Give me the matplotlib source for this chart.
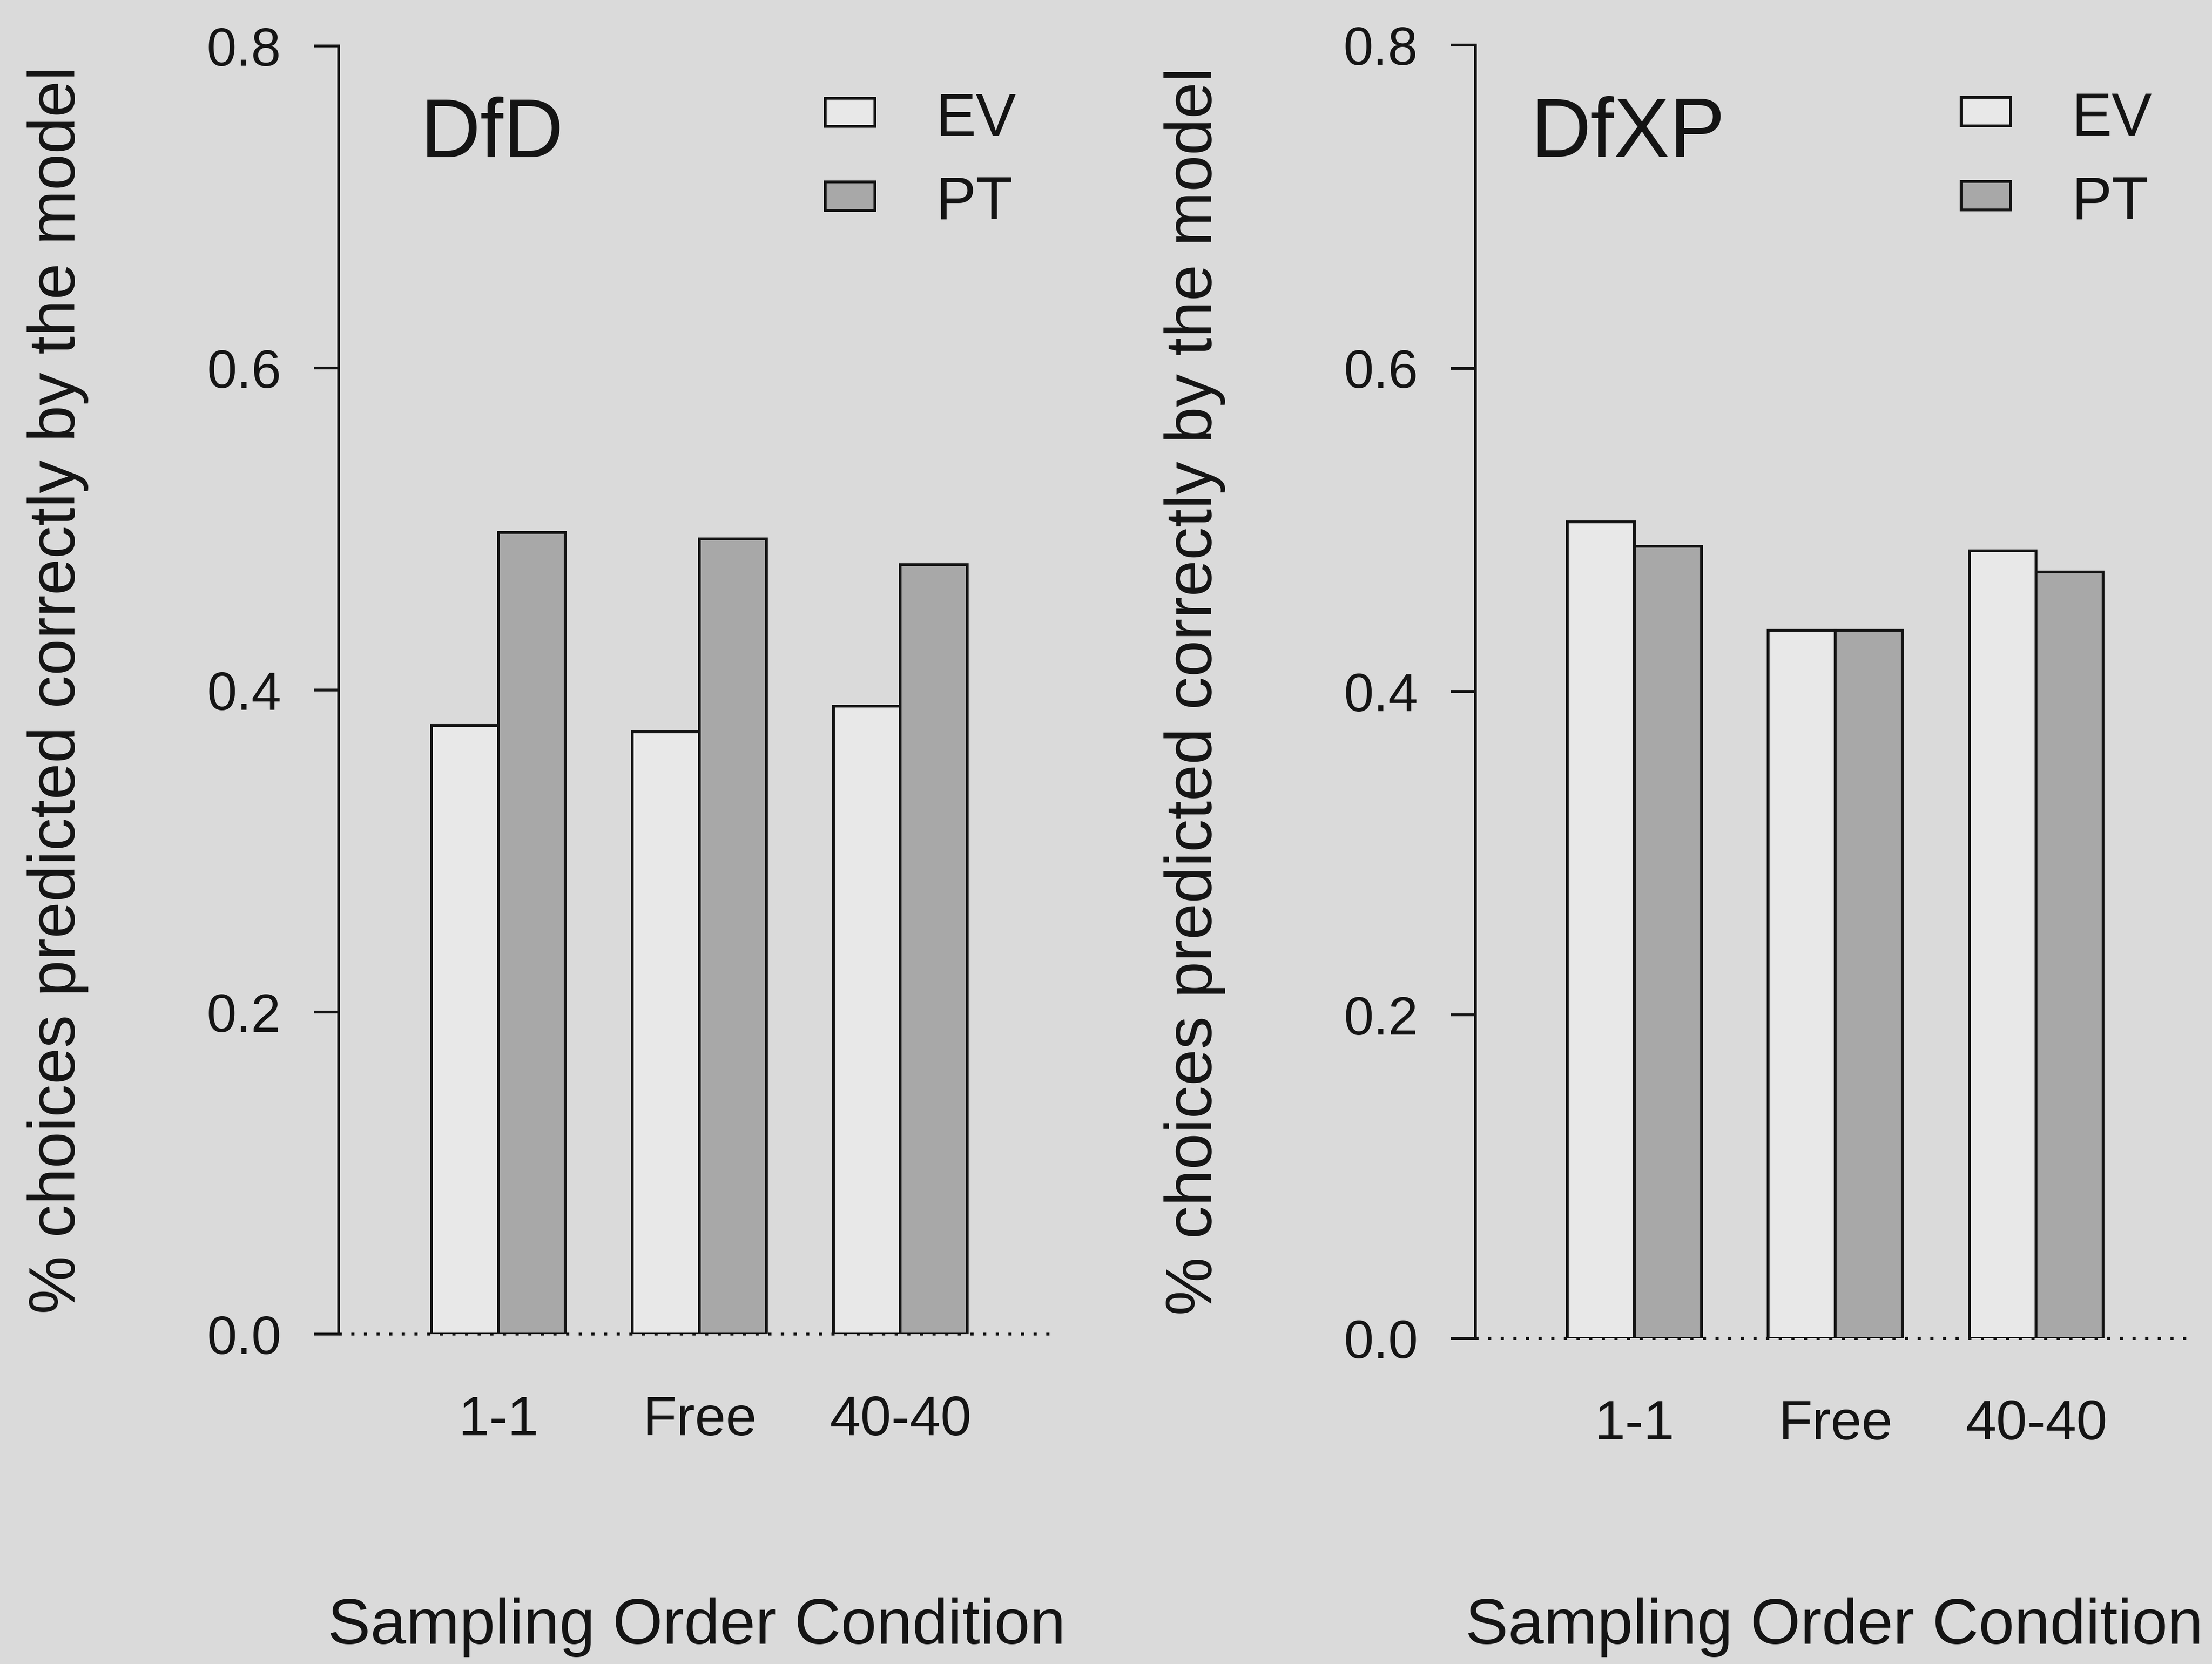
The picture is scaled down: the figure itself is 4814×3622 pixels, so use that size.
import matplotlib
matplotlib.use("Agg")
import matplotlib.pyplot as plt
from matplotlib.patches import Rectangle

# Proportion of choices predicted correctly, per sampling order condition
conditions = ["1-1", "Free", "40-40"]
models = ["EV", "PT"]
panel_titles = ["DfD", "DfXP"]
dfd_ev = [0.378, 0.374, 0.390]
dfd_pt = [0.498, 0.494, 0.478]
dfxp_ev = [0.505, 0.438, 0.487]
dfxp_pt = [0.490, 0.438, 0.474]
yticks = [0.0, 0.2, 0.4, 0.6, 0.8]

W, H, DPI = 4814, 3622, 300
BG = "#dadada"
INK = "#141414"
FILLS = {"EV": "#e8e8e8", "PT": "#a8a8a8"}
LW = 1.45

plt.rcParams["font.family"] = ["Liberation Sans", "DejaVu Sans"]
plt.rcParams["text.color"] = INK
plt.rcParams["axes.edgecolor"] = INK
plt.rcParams["xtick.color"] = INK
plt.rcParams["ytick.color"] = INK


def px_axes(fig, left, bottom, width, height):
    """Add axes given in pixel coordinates measured from the top-left corner."""
    return fig.add_axes([left / W, 1 - bottom / H, width / W, height / H])


def draw_panel(ax, ev, pt, title, xlim):
    ax.set_facecolor("none")
    lefts = [1 + 3 * i for i in range(len(conditions))]
    centers = [l + 1 for l in lefts]

    ax.axhline(0, color=INK, lw=1.5, dashes=(1.1, 3.3), zorder=1, clip_on=False)
    ax.bar(lefts, ev, width=1.0, align="edge", color=FILLS["EV"],
           edgecolor=INK, linewidth=LW, zorder=2)
    ax.bar([l + 1 for l in lefts], pt, width=1.0, align="edge", color=FILLS["PT"],
           edgecolor=INK, linewidth=LW, zorder=2)

    ax.set_xlim(*xlim)
    ax.set_ylim(0, 0.8)
    for side in ("top", "right", "bottom"):
        ax.spines[side].set_visible(False)
    ax.spines["left"].set_linewidth(LW)
    ax.spines["left"].set_bounds(0, 0.8)

    ax.set_yticks(yticks)
    ax.set_yticklabels([f"{v:.1f}" for v in yticks])
    ax.tick_params(axis="y", length=13, width=LW, pad=17, labelsize=28)
    ax.set_xticks(centers)
    ax.set_xticklabels(conditions)
    ax.tick_params(axis="x", length=0, pad=32, labelsize=29)

    ax.text(1.9, 0.731, title, ha="center", va="baseline", fontsize=43.5)

    # key: EV on top, PT below
    for name, y0, ytxt in zip(models, (0.750, 0.698), (0.744, 0.6925)):
        ax.add_patch(Rectangle((6.88, y0), 0.74, 0.0175, facecolor=FILLS[name],
                               edgecolor=INK, linewidth=LW, clip_on=False))
        ax.text(8.53, ytxt, name, ha="left", va="baseline", fontsize=31.5)


fig = plt.figure(figsize=(W / DPI, H / DPI), dpi=DPI, facecolor=BG)

ax1 = px_axes(fig, 737, 2904, 1559, 2804)
draw_panel(ax1, dfd_ev, dfd_pt, panel_titles[0], (-0.385, 10.31))
ax2 = px_axes(fig, 3211, 2913, 1563, 2815)
draw_panel(ax2, dfxp_ev, dfxp_pt, panel_titles[1], (-0.372, 10.35))

ylabel = "% choices predicted correctly by the model"
xlabel = "Sampling Order Condition"
for x_base, x_mid, y_mid in ((163, 1516, 1502), (2637, 3992, 1505)):
    fig.text(x_base / W, 1 - y_mid / H, ylabel, rotation=90, rotation_mode="anchor",
             ha="center", va="baseline", fontsize=34.3)
    fig.text(x_mid / W, 1 - 3578 / H, xlabel, ha="center", va="baseline", fontsize=33.5)

fig.savefig("out.png", dpi=DPI, facecolor=BG)
